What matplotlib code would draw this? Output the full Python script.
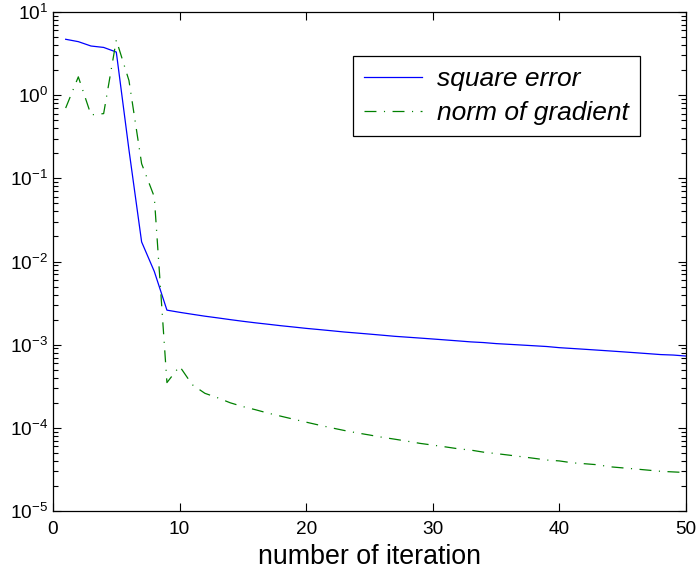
import numpy as np
import matplotlib
matplotlib.use("Agg")
import matplotlib.pyplot as plt
from matplotlib.ticker import LogLocator, NullFormatter, MultipleLocator

plt.rcParams['font.family'] = ['Liberation Sans', 'DejaVu Sans']
plt.rcParams['mathtext.fontset'] = 'custom'
plt.rcParams['mathtext.rm'] = 'Liberation Sans'
plt.rcParams['mathtext.it'] = 'Liberation Sans:italic'
plt.rcParams['lines.scale_dashes'] = False

# iteration number
iterations = np.arange(1, 51)

# square error per iteration
square_error = [
    4.7, 4.4, 3.9, 3.75, 3.3, 0.22, 0.0172, 0.0076, 0.0026, 0.00245,
    0.00232, 0.00220, 0.00210, 0.00200, 0.00191, 0.00183, 0.00176, 0.00169, 0.00163, 0.00157,
    0.00152, 0.00147, 0.00142, 0.00138, 0.00134, 0.00130, 0.00126, 0.00123, 0.00120, 0.00117,
    0.00114, 0.00111, 0.00108, 0.00106, 0.00103, 0.00101, 0.00099, 0.00097, 0.00095, 0.00092,
    0.00090, 0.00088, 0.00086, 0.00084, 0.00082, 0.00080, 0.00078, 0.00076, 0.00075, 0.00073,
]

# norm of gradient per iteration
grad_norm = [
    0.7, 1.66, 0.58, 0.6, 4.6, 1.5, 0.15, 0.06, 0.00035, 0.00055,
    0.00033, 0.00026, 0.00023, 0.00020, 0.00018, 0.000165, 0.000150, 0.000138, 0.000127, 0.000117,
    0.000108, 0.000100, 0.000093, 0.000087, 0.000082, 0.000077, 0.000073, 0.000069, 0.000065, 0.000062,
    0.000059, 0.000056, 0.000054, 0.000051, 0.000049, 0.000047, 0.000045, 0.000043, 0.000041, 0.000040,
    0.000038, 0.000037, 0.000036, 0.000034, 0.000033, 0.000032, 0.000031, 0.000030, 0.0000295, 0.000029,
]

fig = plt.figure(figsize=(6.97, 5.74), dpi=100)
ax = fig.add_axes([53 / 697, 63 / 574, 633 / 697, 499 / 574])

ax.semilogy(iterations, square_error, color=(0, 0, 1), lw=0.9, label='square error')
ax.semilogy(iterations, grad_norm, color=(0, 0.5, 0), lw=0.9,
            linestyle=(0, (8.6, 5.4, 0.8, 5.4)), label='norm of gradient')

ax.set_xlim(0, 50)
ax.set_ylim(1e-5, 1e1)
ax.xaxis.set_major_locator(MultipleLocator(10))
ax.yaxis.set_major_locator(LogLocator(base=10, numticks=10))
ax.yaxis.set_minor_locator(LogLocator(base=10, subs=np.arange(2, 10), numticks=20))
ax.yaxis.set_minor_formatter(NullFormatter())

ax.tick_params(which='both', direction='in', top=True, right=True, labelsize=13.7, width=0.8)
ax.tick_params(which='major', length=6)
ax.tick_params(which='minor', length=3.5)
ax.tick_params(axis='x', pad=7.5)
for s in ax.spines.values():
    s.set_linewidth(0.9)

ax.set_xlabel('number of iteration', fontsize=19.3, labelpad=4)

leg = ax.legend(loc='upper left', bbox_to_anchor=((353 - 53) / 633, 1 - (56 - 12) / 499),
                borderaxespad=0, prop={'style': 'italic', 'size': 19},
                fancybox=False, framealpha=1, edgecolor='black',
                handlelength=2.2, handletextpad=0.55, borderpad=0.42, labelspacing=0.38)
leg.get_frame().set_linewidth(0.9)

fig.savefig('out.png', dpi=100)
